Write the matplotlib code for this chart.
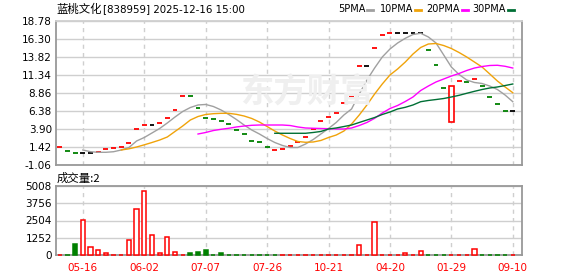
import matplotlib
matplotlib.use("Agg")
import matplotlib.pyplot as plt
from matplotlib.patches import Rectangle
import numpy as np

# ---- data ----
dates = ["05-16", "06-02", "07-07", "07-26", "10-21", "04-20", "01-29", "09-10"]
date_pos = [3, 11, 19, 27, 35, 43, 51, 59]

closes = [1.38, 0.83, 0.55, 0.55, 0.55, 0.69, 1.10, 1.24, 1.38, 1.93,
          3.86, 4.45, 4.45, 4.69, 5.37, 6.48, 8.42, 8.42, 6.75, 5.37,
          5.24, 5.07, 4.59, 3.72, 3.18, 2.21, 2.11, 1.38, 1.01, 1.10,
          1.49, 2.07, 2.76, 3.90, 5.00, 5.53, 6.17, 7.44, 8.27, 12.58,
          12.58, 15.02, 16.85, 17.09, 17.09, 17.09, 17.09, 17.09, 14.78, 12.72,
          9.51, 9.82, 10.47, 10.38, 10.79, 9.78, 8.27, 7.30, 6.38, 6.38]
opens = [1.38, 0.83, 0.55, 0.55, 0.55, 0.69, 1.10, 1.24, 1.38, 1.93,
         3.86, 4.45, 4.45, 4.69, 5.37, 6.48, 8.42, 8.42, 6.75, 5.37,
         5.24, 5.07, 4.59, 3.72, 3.18, 2.21, 2.11, 1.38, 1.01, 1.10,
         1.49, 2.07, 2.76, 3.90, 5.00, 5.53, 6.17, 7.44, 8.27, 12.58,
         12.58, 15.02, 16.85, 17.09, 17.09, 17.09, 17.09, 17.09, 14.78, 12.72,
         9.51, 4.82, 10.47, 10.38, 10.79, 9.78, 8.27, 7.30, 6.38, 6.38]
candle_col = ("rggkkrrrrr" "rrkrrrrggg" "ggggggggrr"
              "rrrrrrrrrr" "krrrkkkkgg" "grrgrggggk")

volumes = [20, 20, 800, 2550, 556, 363, 170, 20, 20, 1090,
           3340, 4646, 1452, 170, 1285, 196, 20, 145, 218, 363,
           20, 145, 20, 20, 20, 20, 20, 20, 20, 20,
           20, 20, 20, 20, 20, 20, 20, 20, 20, 726,
           20, 2372, 20, 20, 20, 121, 20, 266, 20, 20,
           20, 20, 20, 20, 436, 20, 20, 20, 20, 20]
vol_col = ("rggrrrrrrr" "rrrrrrrggg" "gggggggggr"
           "rrrrrrrrrr" "rrrrrrrrgg" "grrrrggggr")

N = None
ma5 = [N, N, N, 1.01, 0.77, 0.69, 0.69, 0.77, 1.01, 1.35,
       2.25, 2.73, 3.35, 3.97, 4.73, 5.55, 6.31, 6.86, 7.21, 7.28,
       7.00, 6.52, 5.90, 5.21, 4.45, 3.76, 3.21, 2.59, 2.04, 1.63,
       1.35, 1.35, 1.83, 2.45, 3.21, 3.97, 4.80, 5.83, 6.66, 8.72,
       10.65, 12.30, 13.82, 14.92, 15.75, 16.40, 16.92, 17.09, 16.58, 15.75,
       14.10, 12.44, 11.41, 10.65, 10.31, 10.17, 9.82, 9.34, 8.58, 7.66]
ma10 = [N, N, N, N, N, N, N, N, 1.01, 1.17,
        1.42, 1.72, 2.04, 2.38, 2.80, 3.56, 4.31, 5.14, 5.62, 5.90,
        6.01, 6.06, 6.06, 5.92, 5.69, 5.35, 4.86, 4.24, 3.62, 3.07,
        2.59, 2.18, 2.07, 2.11, 2.32, 2.73, 3.07, 3.62, 4.59, 5.83,
        7.21, 8.72, 10.10, 11.34, 12.17, 13.13, 14.23, 15.13, 15.61, 15.68,
        15.40, 14.99, 14.44, 13.82, 13.13, 12.44, 11.48, 10.51, 9.69, 8.90]
ma20 = [N] * 18 + [3.21, 3.42,
        3.69, 3.86, 4.00, 4.18, 4.31, 4.41, 4.45, 4.45, 4.45, 4.45,
        4.38, 4.18, 4.04, 4.00, 3.97, 3.94, 3.90, 3.90, 4.04, 4.38,
        4.80, 5.37, 6.10, 6.72, 7.14, 7.69, 8.31, 9.20, 9.82, 10.38,
        10.79, 11.20, 11.55, 11.96, 12.30, 12.51, 12.65, 12.68, 12.54, 12.30]
ma30 = [N] * 28 + [3.31, 3.31,
        3.31, 3.31, 3.31, 3.42, 3.56, 3.90, 4.04, 4.24, 4.45, 4.80,
        5.14, 5.48, 5.90, 6.24, 6.66, 6.89, 7.21, 7.66, 7.83, 7.96,
        8.10, 8.31, 8.54, 8.82, 9.09, 9.34, 9.55, 9.69, 9.89, 10.10]

price_ticks = [18.78, 16.30, 13.82, 11.34, 8.86, 6.38, 3.90, 1.42, -1.06]
vol_ticks = [5008, 3756, 2504, 1252, 0]

# ---- styling ----
RED, GREEN, BLACK = "#ff0000", "#008000", "#000000"
cmap = {"r": RED, "g": GREEN, "k": BLACK}
ma_styles = [("5PMA", ma5, "#a0a0a0"), ("10PMA", ma10, "#f0a30a"),
             ("20PMA", ma20, "#ff00ff"), ("30PMA", ma30, "#006f35")]
FRAME = "#999999"
GRID = "#cfcfcf"
CJK = ["Noto Sans CJK SC", "DejaVu Sans"]

W, H = 578, 276
fig = plt.figure(figsize=(W / 100, H / 100), dpi=100)
fig.patch.set_facecolor("white")


def box(l, t, r, b):
    return [l / W, 1 - b / H, (r - l) / W, (b - t) / H]


ax = fig.add_axes(box(56, 21, 522, 165))
axv = fig.add_axes(box(56, 186, 522, 255))
n = len(closes)
x = np.arange(n)

for a in (ax, axv):
    a.set_xlim(-0.5, 60.2)
    for s in a.spines.values():
        s.set_color(FRAME)
        s.set_linewidth(1.3)
    a.tick_params(length=0, labelsize=7.5, pad=3)
    for p in date_pos:
        a.axvline(p, color=GRID, lw=1, ls=(0, (3, 3)), zorder=0)
ax.spines["top"].set_color(GRID)

# watermark
fig.text(240 / W, 1 - 93 / H, "东方财富", family=CJK, fontsize=24,
         fontweight="bold", color="#efefef", va="center", ha="left", zorder=0)

# price panel
ax.set_ylim(-1.06, 18.78)
ax.set_yticks(price_ticks)
ax.set_yticklabels([f"{v:.2f}" for v in price_ticks])
for v in price_ticks:
    ax.axhline(v, color=GRID, lw=1, zorder=0)
ax.set_xticks([])

for i in range(n):
    c = cmap[candle_col[i]]
    o, cl = opens[i], closes[i]
    if abs(cl - o) < 0.05:
        ax.hlines(cl, i - 0.32, i + 0.32, color=c, lw=1.3, zorder=2)
    else:
        lo, hi = min(o, cl), max(o, cl)
        ax.add_patch(Rectangle((i - 0.3, lo), 0.6, hi - lo, facecolor="white",
                               edgecolor=c, lw=1.2, zorder=2))

for name, vals, col in ma_styles:
    ax.plot(x, np.array(vals, dtype=float), color=col, lw=1, zorder=3)

# volume panel
axv.set_ylim(0, 5008)
axv.set_yticks(vol_ticks)
axv.set_yticklabels([str(v) for v in vol_ticks])
for v in vol_ticks:
    axv.axhline(v, color=GRID, lw=1, zorder=0)
for i in range(n):
    c = cmap[vol_col[i]]
    face = "white" if vol_col[i] == "r" else c
    axv.bar(i, volumes[i], width=0.55, facecolor=face, edgecolor=c,
            lw=1.1, zorder=3, clip_on=False)
axv.set_xticks(date_pos)
axv.set_xticklabels(dates, color=RED)
axv.tick_params(axis="x", pad=6)

# header texts
fig.text(56 / W, 1 - 9 / H, "蓝桃文化", family=CJK, fontsize=8.2,
         va="center", ha="left")
fig.text(103 / W, 1 - 9 / H, "[838959] 2025-12-16 15:00",
         family="DejaVu Sans", fontsize=7.4, va="center", ha="left")
fig.text(57 / W, 1 - 178 / H, "成交量:2", family=CJK, fontsize=8.2,
         va="center", ha="left")

leg_x = [(338, 367), (380, 415), (426, 462), (472, 508)]
for (tx, dx), (name, _, col) in zip(leg_x, ma_styles):
    fig.text(tx / W, 1 - 9 / H, name, family="DejaVu Sans", fontsize=7,
             va="center", ha="left")
    fig.add_artist(plt.Line2D([dx / W, (dx + 6) / W], [1 - 9.5 / H] * 2,
                              color=col, lw=2))

fig.savefig("out.png", dpi=100, facecolor="white")
